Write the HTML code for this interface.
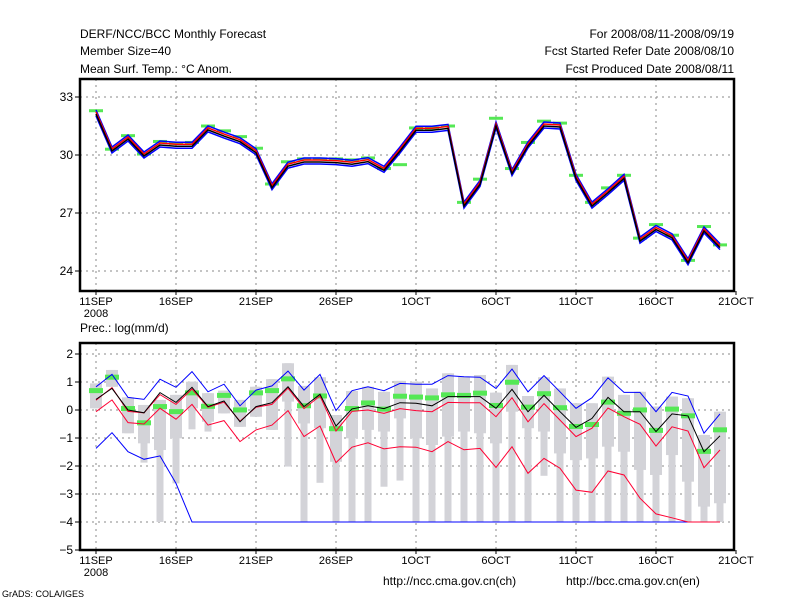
<!DOCTYPE html>
<html><head><meta charset="utf-8"><style>
body{margin:0;background:#fff;width:800px;height:600px;overflow:hidden}
svg{display:block;font-family:"Liberation Sans",sans-serif}
</style></head><body>
<svg id="c" width="800" height="600" viewBox="0 0 800 600">
<g font-size="12" fill="#000">
<text x="80" y="38">DERF/NCC/BCC Monthly Forecast</text>
<text x="80" y="55">Member Size=40</text>
<text x="80" y="73">Mean Surf. Temp.: °C Anom.</text>
<text x="734" y="38" text-anchor="end">For 2008/08/11-2008/09/19</text>
<text x="734" y="55" text-anchor="end">Fcst Started Refer Date 2008/08/10</text>
<text x="734" y="73" text-anchor="end">Fcst Produced Date 2008/08/11</text>
<text x="80" y="332">Prec.: log(mm/d)</text>
<text x="383" y="585">http://ncc.cma.gov.cn(ch)</text>
<text x="566" y="585">http://bcc.cma.gov.cn(en)</text>
<text x="2" y="597" font-size="9">GrADS: COLA/IGES</text>
</g>
</svg>
<script>
// ---- data ----
const xLabels=["11SEP","16SEP","21SEP","26SEP","1OCT","6OCT","11OCT","16OCT","21OCT"];
const topTicks=[33,30,27,24];
const botTicks=[2,1,0,-1,-2,-3,-4,-5];
const tMean=[32.17,30.26,30.88,30.0,30.57,30.5,30.5,31.35,31.03,30.74,30.17,28.36,29.48,29.69,29.69,29.66,29.57,29.71,29.26,30.26,31.33,31.33,31.43,27.41,28.53,31.55,29.09,30.52,31.55,31.5,28.84,27.41,28.1,28.84,25.6,26.2,25.77,24.48,26.12,25.26];
const tObs=[32.29,30.3,31.0,30.05,30.7,30.6,30.65,31.5,31.25,30.95,30.35,28.5,29.65,29.8,29.8,29.8,29.75,29.85,29.3,29.5,31.4,31.4,31.5,27.55,28.75,31.9,29.3,30.65,31.75,31.65,28.95,27.55,28.3,28.95,25.7,26.4,25.85,24.55,26.3,25.35];
const pMean=[0.38,0.77,0.0,-0.1,0.62,0.27,0.81,0.12,0.32,-0.42,0.12,0.26,0.83,0.12,0.56,-0.57,0.04,0.15,0.05,0.26,0.24,0.15,0.48,0.48,0.48,0.06,0.74,-0.06,0.52,-0.06,-0.62,-0.3,0.45,-0.06,-0.06,-0.77,-0.14,-0.21,-1.49,-0.92];
const pMax=[0.83,1.27,0.45,0.38,1.1,0.81,1.37,0.65,0.92,0.15,0.71,0.86,1.39,0.71,1.27,-0.02,0.69,0.83,0.69,0.95,0.92,0.92,1.23,1.19,1.17,0.77,1.46,0.65,1.23,0.65,0.06,0.44,1.15,0.63,0.63,-0.06,0.63,0.5,-0.83,-0.14];
const pMin=[-1.37,-0.81,-1.49,-1.76,-1.64,-2.62,-4,-4,-4,-4,-4,-4,-4,-4,-4,-4,-4,-4,-4,-4,-4,-4,-4,-4,-4,-4,-4,-4,-4,-4,-4,-4,-4,-4,-4,-4,-4,-4,-4,-4];
const pHi=[0.35,0.8,-0.05,-0.1,0.55,0.2,0.75,0.1,0.28,-0.4,0.1,0.2,0.78,0.05,0.5,-0.75,-0.05,0.0,-0.12,0.05,-0.02,-0.06,0.27,0.26,0.26,-0.24,0.44,-0.42,0.23,-0.36,-0.95,-0.65,0.07,-0.24,-0.51,-1.29,-0.6,-0.75,-2.06,-1.43];
const pLo=[-0.06,0.36,-0.45,-0.5,0.06,-0.33,0.2,-0.54,-0.38,-1.13,-0.71,-0.54,-0.02,-0.95,-0.57,-1.88,-1.33,-1.17,-1.39,-1.31,-1.33,-1.49,-1.13,-1.42,-1.37,-2.05,-1.31,-2.26,-1.73,-2.08,-2.86,-2.94,-2.18,-2.32,-3.15,-3.71,-3.85,-4,-4,-4];
const pObs=[0.71,1.19,0.07,-0.44,0.14,-0.04,0.63,0.15,0.54,0.02,0.63,0.71,1.13,0.17,0.52,-0.65,0.07,0.27,0.05,0.51,0.48,0.45,0.56,0.54,0.62,0.18,1.01,0.12,0.6,0.1,-0.57,-0.5,0.3,-0.1,0.02,-0.71,0.05,-0.19,-1.46,-0.69];
const boxTop=[0.95,1.43,0.45,0.18,0.36,0.54,1.01,0.6,0.69,0.36,0.83,1.1,1.67,0.86,1.17,-0.18,0.68,0.83,0.65,1.04,1.01,0.77,1.31,1.19,1.25,0.62,1.61,0.5,1.17,0.77,0.24,0.24,1.19,0.54,0.65,0.12,0.48,0.42,-0.89,-0.06];
const boxBot=[0.06,0.83,-0.83,-1.19,-1.43,-1.01,0.06,-0.42,-0.12,-0.6,-0.24,-0.71,0.3,-0.48,-0.65,-1.85,-1.01,-0.71,-0.77,-0.3,-1.01,-1.25,-0.95,-0.77,-0.83,-1.19,-0.06,-0.65,-0.77,-1.55,-1.79,-1.73,-1.31,-1.49,-2.14,-2.32,-1.61,-2.56,-3.45,-3.33];
const whiskBot=[0.06,0.83,-0.83,-1.88,-4,-2.62,-0.69,-0.77,-0.12,-0.6,-0.24,-0.71,-2.02,-4,-2.6,-4,-4,-4,-2.74,-2.52,-4,-4,-4,-4,-4,-4,-4,-4,-2.35,-4,-4,-4,-4,-4,-4,-4,-4,-4,-4,-4];

const svg=document.getElementById('c');
const NS='http://www.w3.org/2000/svg';
function mk(tag,attrs,parent){const e=document.createElementNS(NS,tag);for(const k in attrs)e.setAttribute(k,attrs[k]);(parent||svg).appendChild(e);return e;}
const X=d=>96+16*d;
const L=80,R=734;
const TT=79,TB=291;
const yT=v=>155-(v-30)*19.333;
const BT=343,BB=550;
const yB=v=>410-v*28;

function panel(top,bot,ticks,yf,name){
  const g=mk('g',{});
  
  
  ticks.forEach(t=>{const y=yf(t);if(y>top+2&&y<bot-2)mk('line',{x1:L,x2:R,y1:y,y2:y,stroke:'#888','stroke-dasharray':'2,4'},g);});
  xLabels.forEach((s,i)=>{const x=X(i*5);if(x>L&&x<R)mk('line',{x1:x,x2:x,y1:top,y2:bot,stroke:'#888','stroke-dasharray':'2,4'},g);});
}
function frame(top,bot,ticks,yf,name){
  const f=mk('rect',{x:L,y:top,width:R-L,height:bot-top,fill:'none',stroke:'#000','stroke-width':2.5});
  
  
  ticks.forEach(t=>{const y=yf(t);
    mk('line',{x1:L-5,x2:L,y1:y,y2:y,stroke:'#000'});
    const tx=mk('text',{x:L-7,y:y+4,'text-anchor':'end','font-size':12});
    tx.textContent=t<0?'\u2212'+(-t):String(t);
    
    
  });
  xLabels.forEach((s,i)=>{const x=X(i*5);
    mk('line',{x1:x,x2:x,y1:bot,y2:bot+4,stroke:'#000'});
    const tx=mk('text',{x:x,y:bot+14,'text-anchor':'middle','font-size':11});
    tx.textContent=s;
    
    
  });
  const yr=mk('text',{x:X(0),y:bot+26,'text-anchor':'middle','font-size':11});
  yr.textContent='2008';
  
  
}
function line(arr,yf,color,w,off,name){
  const p=arr.map((v,i)=>X(i)+','+(yf(v)+off).toFixed(1)).join(' ');
  const e=mk('polyline',{points:p,fill:'none',stroke:color,'stroke-width':w});
  
  
}

// ---- top panel ----
panel(TT,TB,topTicks,yT,'temp');
tObs.forEach((v,i)=>{const r=mk('rect',{x:X(i)-7,y:yT(v)-1.5,width:14,height:3,fill:'#55e855'});
  
  });
line(tMean,yT,'#0000ff',1.5,3,'temp-lower-bound');
line(tMean,yT,'#0000ff',1.5,-3,'temp-upper-bound');
line(tMean,yT,'#ff0000',1.5,-1,'temp-median');
line(tMean,yT,'#000000',1.5,1,'temp-ensemble-mean');
frame(TT,TB,topTicks,yT,'temp');

// ---- bottom panel ----
panel(BT,BB,botTicks,yB,'prec');
whiskBot.forEach((v,i)=>{const r=mk('rect',{x:X(i)-3.5,y:yB(boxTop[i]),width:7,height:Math.max(0,yB(v)-yB(boxTop[i])),fill:'#d3d3d8'});
  
  });
boxTop.forEach((v,i)=>{const r=mk('rect',{x:X(i)-6,y:yB(v),width:12,height:Math.max(1,yB(boxBot[i])-yB(v)),fill:'#d3d3d8'});
  
  });
pObs.forEach((v,i)=>{const r=mk('rect',{x:X(i)-7,y:yB(v)-2,width:14,height:5,fill:'#55e855'});
  
  });
line(pMin,yB,'#0000ff',1,0,'prec-min-line');
line(pLo,yB,'#ff0033',1,0,'prec-low-percentile');
line(pMax,yB,'#0000ff',1,0,'prec-max-line');
line(pHi,yB,'#ff0033',1,0,'prec-high-percentile');
line(pMean,yB,'#000000',1,0,'prec-ensemble-mean');
frame(BT,BB,botTicks,yB,'prec');
</script>
</body></html>
